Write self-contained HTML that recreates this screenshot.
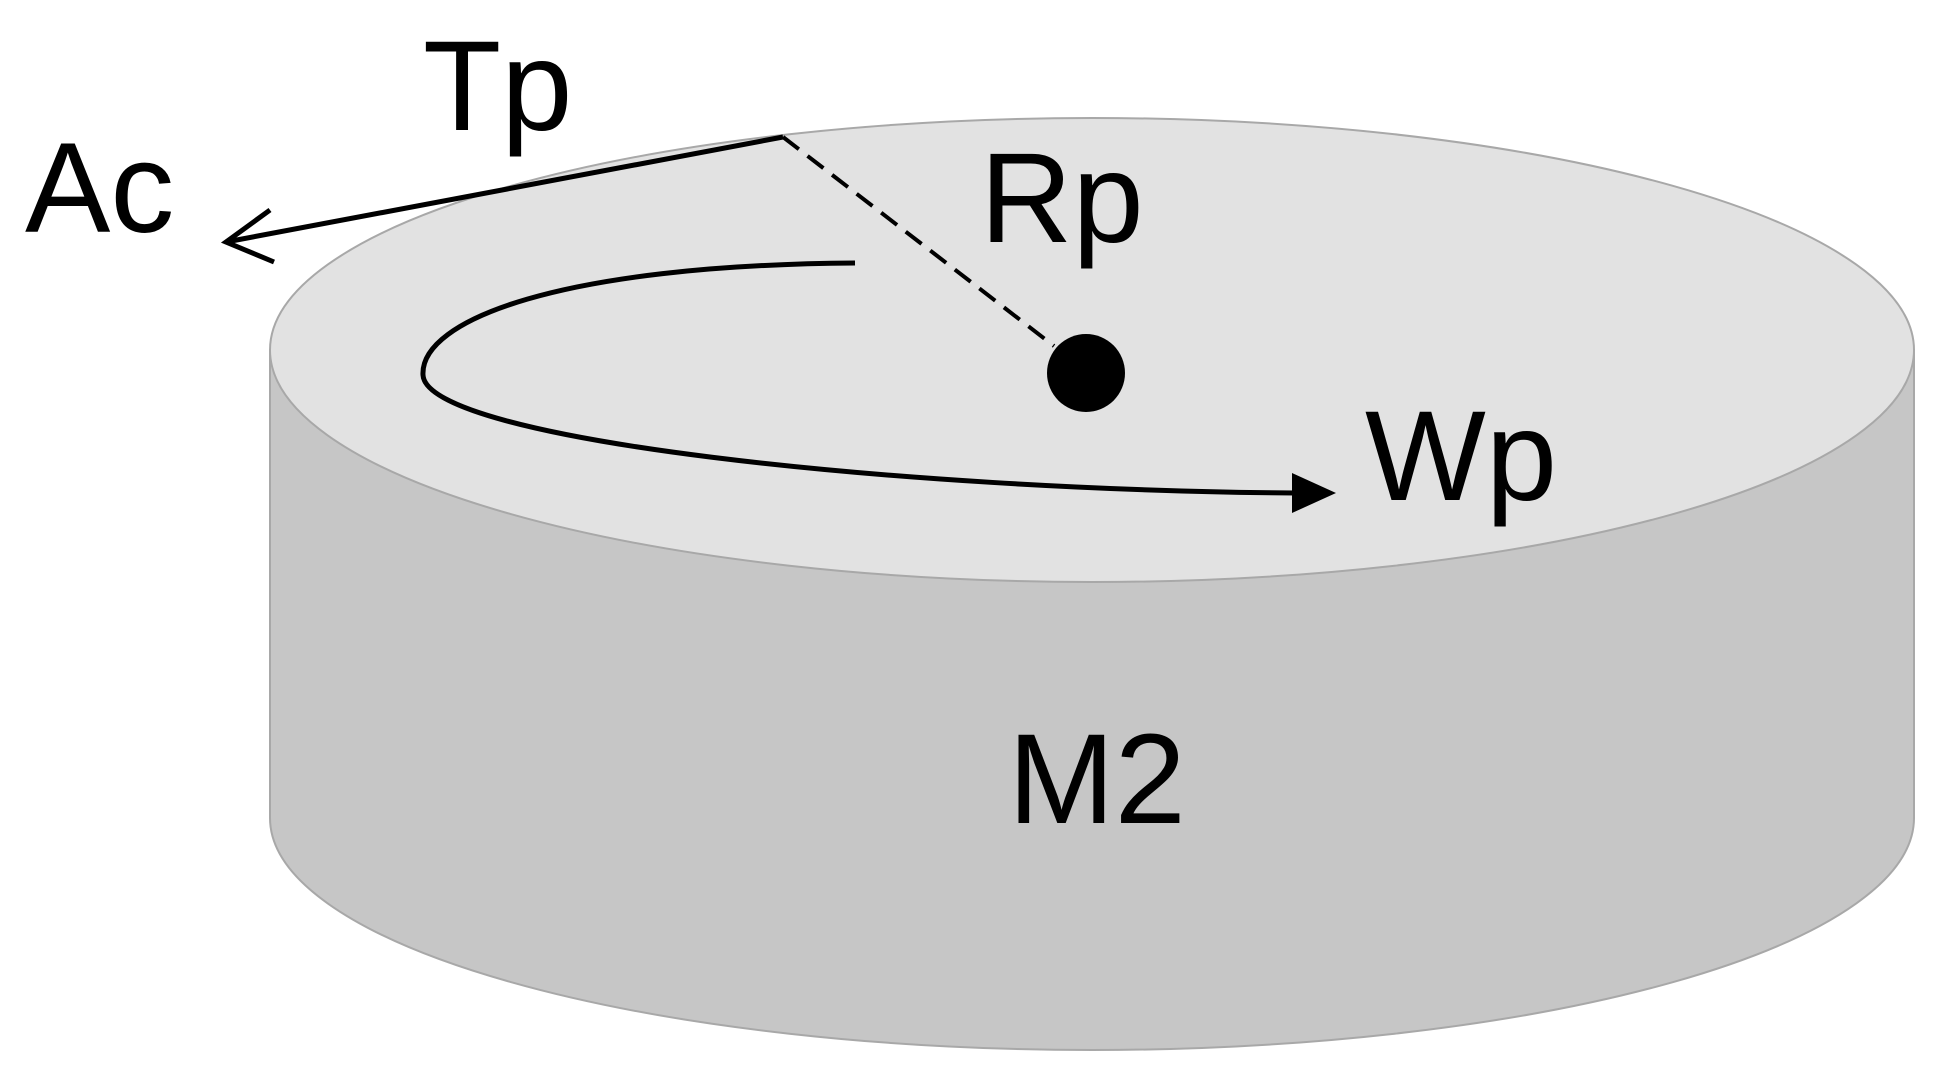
<!DOCTYPE html>
<html><head><meta charset="utf-8"><style>
html,body{margin:0;padding:0;background:#fff;}
svg{display:block;}
text{font-family:"Liberation Sans",sans-serif;fill:#000;}
</style></head><body>
<svg width="1939" height="1066" viewBox="0 0 1939 1066" xmlns="http://www.w3.org/2000/svg">
<path d="M270,350 L270,818 A822,232 0 0 0 1914,818 L1914,350 Z" fill="#c6c6c6" stroke="#a8a8a8" stroke-width="2"/>
<ellipse cx="1092" cy="350" rx="822" ry="232" fill="#e2e2e2" stroke="#a8a8a8" stroke-width="2"/>
<line x1="783" y1="137" x2="226" y2="242" stroke="#000" stroke-width="5"/>
<polyline points="270,210 226,242 274,262" fill="none" stroke="#000" stroke-width="5"/>
<line x1="783" y1="137" x2="1054" y2="346" stroke="#000" stroke-width="4" stroke-dasharray="20,11"/>
<circle cx="1086" cy="373" r="39" fill="#000"/>
<path d="M855,263 C560,265 420,320 423,375 C426,440 900,490 1295,493" fill="none" stroke="#000" stroke-width="5"/>
<polygon points="1336,493 1292,473 1292,513" fill="#000"/>
<text x="423" y="130" font-size="128">Tp</text>
<text x="25" y="232" font-size="128">Ac</text>
<text x="980" y="242" font-size="128">Rp</text>
<text x="1365" y="500" font-size="128">Wp</text>
<text x="1008" y="823" font-size="128">M2</text>
</svg>
</body></html>
